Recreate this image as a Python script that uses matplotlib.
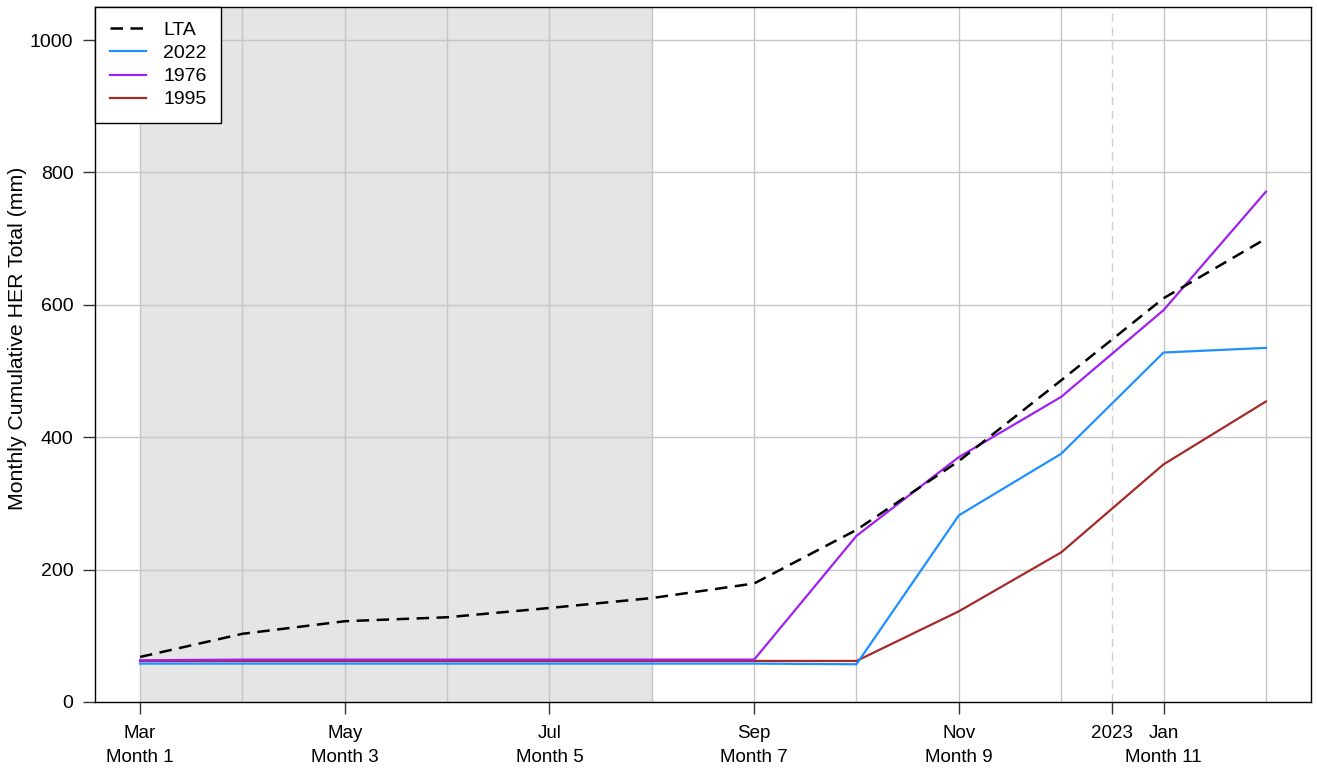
import matplotlib
matplotlib.use("Agg")
import matplotlib.pyplot as plt

plt.rcParams['font.family'] = ['Liberation Sans', 'DejaVu Sans']

months = list(range(1, 13))
lta = [68, 103, 122, 128, 142, 157, 179, 260, 364, 486, 610, 700]
y2022 = [58, 58, 58, 58, 58, 58, 58, 57, 282, 375, 528, 535]
y1976 = [63, 64, 64, 64, 64, 64, 64, 251, 370, 461, 592, 771]
y1995 = [62, 62, 62, 62, 62, 62, 62, 62, 137, 226, 359, 454]

# first label row: calendar month names plus the year break
tick_pos = [1, 3, 5, 7, 9, 10.5, 11]
tick_labels = ["Mar", "May", "Jul", "Sep", "Nov", "2023", "Jan"]
# second label row: season month numbers
month_num_pos = [1, 3, 5, 7, 9, 11]
month_num_labels = ["Month 1", "Month 3", "Month 5", "Month 7", "Month 9", "Month 11"]
year_break = 10.5
shade_start, shade_end = 1, 6

fig = plt.figure(figsize=(13.17, 7.72), dpi=100)
ax = fig.add_axes([0.0721, 0.0907, 0.9954 - 0.0721, 0.9909 - 0.0907])

ax.set_xlim(0.56, 12.44)
ax.set_ylim(0, 1050)

ax.axvspan(shade_start, shade_end, color="#e5e5e5", zorder=0, lw=0)

grid_col = "#c6c6c6"
for m in months:
    ax.axvline(m, color=grid_col, lw=1, zorder=1)
for yv in [200, 400, 600, 800, 1000]:
    ax.axhline(yv, color=grid_col, lw=1, zorder=1)
ax.axvline(year_break, color="#d0d0d0", lw=1, ls=(0, (6, 4)), zorder=1)

ax.plot(months, y1995, color="#A52A2A", lw=1.6, zorder=3, label="1995")
ax.plot(months, y1976, color="#A020F0", lw=1.6, zorder=3, label="1976")
ax.plot(months, y2022, color="#1E90FF", lw=1.6, zorder=3, label="2022")
ax.plot(months, lta, color="black", lw=1.8, ls=(0, (5, 3)), zorder=4, label="LTA")

handles, labels = ax.get_legend_handles_labels()
order = [3, 2, 1, 0]
leg = ax.legend([handles[i] for i in order], [labels[i] for i in order],
                loc="upper left", bbox_to_anchor=(0, 1), fontsize=14,
                frameon=True, fancybox=False, edgecolor="black", framealpha=1,
                handlelength=1.85, borderpad=0.75, labelspacing=0.28,
                handletextpad=0.9, borderaxespad=0)
leg.get_frame().set_linewidth(1.0)

ax.set_xticks(tick_pos)
ax.set_xticklabels(tick_labels, fontsize=13.5)
ax.set_yticks([0, 200, 400, 600, 800, 1000])
ax.set_yticklabels(["0", "200", "400", "600", "800", "1000"], fontsize=14)
ax.tick_params(axis="both", length=8.6, width=1, color="#333333")
ax.tick_params(axis="x", pad=8)
ax.tick_params(axis="y", pad=7)

sec = ax.secondary_xaxis("bottom")
sec.set_xticks(month_num_pos)
sec.set_xticklabels(month_num_labels, fontsize=13.5)
sec.tick_params(axis="x", length=0, pad=33.5)
sec.spines["bottom"].set_visible(False)

for s in ax.spines.values():
    s.set_linewidth(1.0)
    s.set_color("black")

ax.set_ylabel("Monthly Cumulative HER Total (mm)", fontsize=15.3)
ax.yaxis.set_label_coords(-0.056, 0.524)

fig.savefig("out.png", dpi=100)
